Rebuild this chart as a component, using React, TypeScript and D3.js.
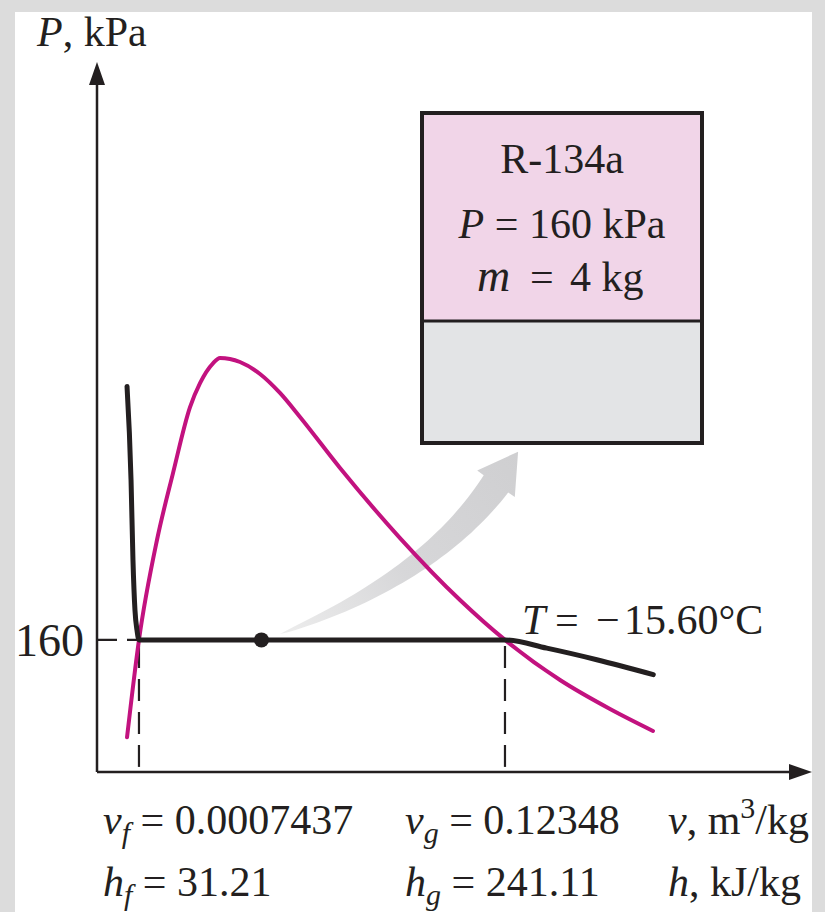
import React from 'react';
import * as d3 from 'd3';

const W = 825;
const H = 912;

// Schematic P-v diagram data: v in axis units (0-100), P in kPa
const domeV = [4.2, 5.87, 8.39, 10.63, 13.01, 14.41, 16.22, 17.2, 20.0, 22.8, 25.59, 28.39, 33.99, 42.38, 50.77, 57.06, 64.76, 71.75, 77.76];
const domeP = [42, 160, 281, 362, 442, 471, 495, 501.5, 496.6, 482.1, 459.1, 430.0, 368.2, 283.4, 208.3, 160, 111.4, 76.3, 49.7];
const isoV = [4.2, 4.76, 5.03, 5.31, 5.59, 5.87, 23.0, 57.06, 62.9, 69.9, 77.8];
const isoP = [467, 354, 257, 196, 172, 160, 160, 160, 150, 136, 118];
const satV = [5.87, 57.06];
const satP = 160;
const stateV = 23.0;
const pTicks = [160];
// process arrow control points (tail, control, neck, tip)
const arrowV = [25.6, 46.6, 55.8, 58.9];
const arrowP = [167, 236, 349, 388];

const INK = '#231f20';
const MAGENTA = '#c2127f';
const FONT = '"Liberation Serif", "Times New Roman", serif';

export default function App() {
  const x = d3.scaleLinear().domain([0, 100]).range([97, 812]);
  const y = d3.scaleLinear().domain([0, 860]).range([772, 62]);

  const line = d3
    .line<[number, number]>()
    .x((d) => x(d[0]))
    .y((d) => y(d[1]))
    .curve(d3.curveMonotoneX);

  const dome = line(domeV.map((v, i) => [v, domeP[i]] as [number, number])) || '';
  const iso = line(isoV.map((v, i) => [v, isoP[i]] as [number, number])) || '';

  // tapered curved arrow
  const pts = arrowV.map((v, i) => [x(v), y(arrowP[i])]);
  const [P0, P1, P2, TIP] = pts;
  const N = 40;
  const left: [number, number][] = [];
  const right: [number, number][] = [];
  let nx = 0, ny = 0;
  for (let i = 0; i <= N; i++) {
    const s = i / N;
    const bx = (1 - s) * (1 - s) * P0[0] + 2 * (1 - s) * s * P1[0] + s * s * P2[0];
    const by = (1 - s) * (1 - s) * P0[1] + 2 * (1 - s) * s * P1[1] + s * s * P2[1];
    const tx = 2 * (1 - s) * (P1[0] - P0[0]) + 2 * s * (P2[0] - P1[0]);
    const ty = 2 * (1 - s) * (P1[1] - P0[1]) + 2 * s * (P2[1] - P1[1]);
    const len = Math.hypot(tx, ty);
    nx = -ty / len;
    ny = tx / len;
    const w = 15 * Math.pow(s, 0.7);
    left.push([bx + nx * w, by + ny * w]);
    right.push([bx - nx * w, by - ny * w]);
  }
  const headHalf = 23;
  const arrowPoly = [
    ...left,
    [P2[0] + nx * headHalf, P2[1] + ny * headHalf],
    TIP,
    [P2[0] - nx * headHalf, P2[1] - ny * headHalf],
    ...right.reverse(),
  ];
  const arrowPath = 'M' + arrowPoly.map((p) => p[0].toFixed(1) + ',' + p[1].toFixed(1)).join('L') + 'Z';

  const x0 = x(0);
  const y0 = y(0);
  const xEnd = x(100);
  const yEnd = y(860);

  const fs = 42;
  const sub = 30;

  return (
    <svg
      width={W}
      height={H}
      viewBox={`0 0 ${W} ${H}`}
      style={{ position: 'absolute', left: 0, top: 0, display: 'block' }}
      fontFamily={FONT}
    >
      <defs>
        <linearGradient id="ag" gradientUnits="userSpaceOnUse" x1={P0[0]} y1={P0[1]} x2={TIP[0]} y2={TIP[1]}>
          <stop offset="0" stopColor="#ededed" />
          <stop offset="0.45" stopColor="#d7d7d9" />
          <stop offset="1" stopColor="#cfcfd1" />
        </linearGradient>
      </defs>
      <rect x={0} y={0} width={W} height={H} fill="#dcdcdc" />
      <rect x={15} y={12} width={797} height={H - 12} fill="#ffffff" />

      {/* piston-cylinder box */}
      <rect x={422} y={113} width={280} height={208} fill="#f1d5e8" />
      <rect x={422} y={321} width={280} height={122} fill="#e3e4e6" />
      <rect x={422} y={113} width={280} height={330} fill="none" stroke={INK} strokeWidth={4} />
      <line x1={422} x2={702} y1={321} y2={321} stroke={INK} strokeWidth={3} />
      <text x={562} y={173} fontSize={fs} textAnchor="middle" fill={INK}>R-134a</text>
      <text x={562} y={238} fontSize={fs} textAnchor="middle" fill={INK}>
        <tspan fontStyle="italic">P</tspan> = 160 kPa
      </text>
      <text y={291} fontSize={fs} fill={INK}>
        <tspan x={477} fontStyle="italic" fontSize={46}>m</tspan>
        <tspan x={530}>=</tspan>
        <tspan x={570}>4 kg</tspan>
      </text>

      {/* arrow */}
      <path d={arrowPath} fill="url(#ag)" />

      {/* dashed guides */}
      {pTicks.map((p) => (
        <line key={p} x1={x0} x2={x(satV[0])} y1={y(p)} y2={y(p)} stroke={INK} strokeWidth={2.2} strokeDasharray="20 10" />
      ))}
      {satV.map((v) => (
        <line key={v} x1={x(v)} x2={x(v)} y1={y(satP) + 6} y2={y0} stroke={INK} strokeWidth={2.2} strokeDasharray="22 11" />
      ))}

      {/* curves */}
      <path d={dome} fill="none" stroke={MAGENTA} strokeWidth={4} strokeLinecap="round" />
      <path d={iso} fill="none" stroke={INK} strokeWidth={5} strokeLinecap="round" strokeLinejoin="round" />
      <circle cx={x(stateV)} cy={y(satP)} r={7.5} fill={INK} />

      {/* axes */}
      <line x1={x0} x2={x0} y1={y0} y2={yEnd + 14} stroke={INK} strokeWidth={2.5} />
      <path d={`M${x0},${yEnd}L${x0 - 8},${yEnd + 23}L${x0 + 8},${yEnd + 23}Z`} fill={INK} />
      <line x1={x0} x2={xEnd - 14} y1={y0} y2={y0} stroke={INK} strokeWidth={2.5} />
      <path d={`M${xEnd},${y0}L${xEnd - 23},${y0 - 8}L${xEnd - 23},${y0 + 8}Z`} fill={INK} />

      {/* labels */}
      <text x={37} y={46} fontSize={fs} fill={INK}>
        <tspan fontStyle="italic">P</tspan>, kPa
      </text>
      {pTicks.map((p) => (
        <text key={p} x={15} y={y(p) + 16} fontSize={46} fill={INK}>{p}</text>
      ))}
      <text y={634} fontSize={fs} fill={INK}>
        <tspan x={522} fontStyle="italic">T</tspan>
        <tspan x={555}>=</tspan>
        <tspan x={596}>−</tspan>
        <tspan x={624}>15.60°C</tspan>
      </text>

      {/* bottom property values */}
      <text x={103} y={834} fontSize={fs} fill={INK}>
        <tspan fontStyle="italic">v</tspan>
        <tspan fontStyle="italic" fontSize={sub} dy={9}>f</tspan>
        <tspan dy={-9}> = 0.0007437</tspan>
      </text>
      <text x={405} y={834} fontSize={fs} fill={INK}>
        <tspan fontStyle="italic">v</tspan>
        <tspan fontStyle="italic" fontSize={sub} dy={9}>g</tspan>
        <tspan dy={-9}> = 0.12348</tspan>
      </text>
      <text x={668} y={834} fontSize={fs} fill={INK}>
        <tspan fontStyle="italic">v</tspan>, m<tspan fontSize={sub} dy={-16}>3</tspan>
        <tspan dy={16}>/kg</tspan>
      </text>
      <text x={103} y={896} fontSize={fs} fill={INK}>
        <tspan fontStyle="italic">h</tspan>
        <tspan fontStyle="italic" fontSize={sub} dy={9}>f</tspan>
        <tspan dy={-9}> = 31.21</tspan>
      </text>
      <text x={405} y={896} fontSize={fs} fill={INK}>
        <tspan fontStyle="italic">h</tspan>
        <tspan fontStyle="italic" fontSize={sub} dy={9}>g</tspan>
        <tspan dy={-9}> = 241.11</tspan>
      </text>
      <text x={668} y={896} fontSize={fs} fill={INK}>
        <tspan fontStyle="italic">h</tspan>, kJ/kg
      </text>
    </svg>
  );
}
